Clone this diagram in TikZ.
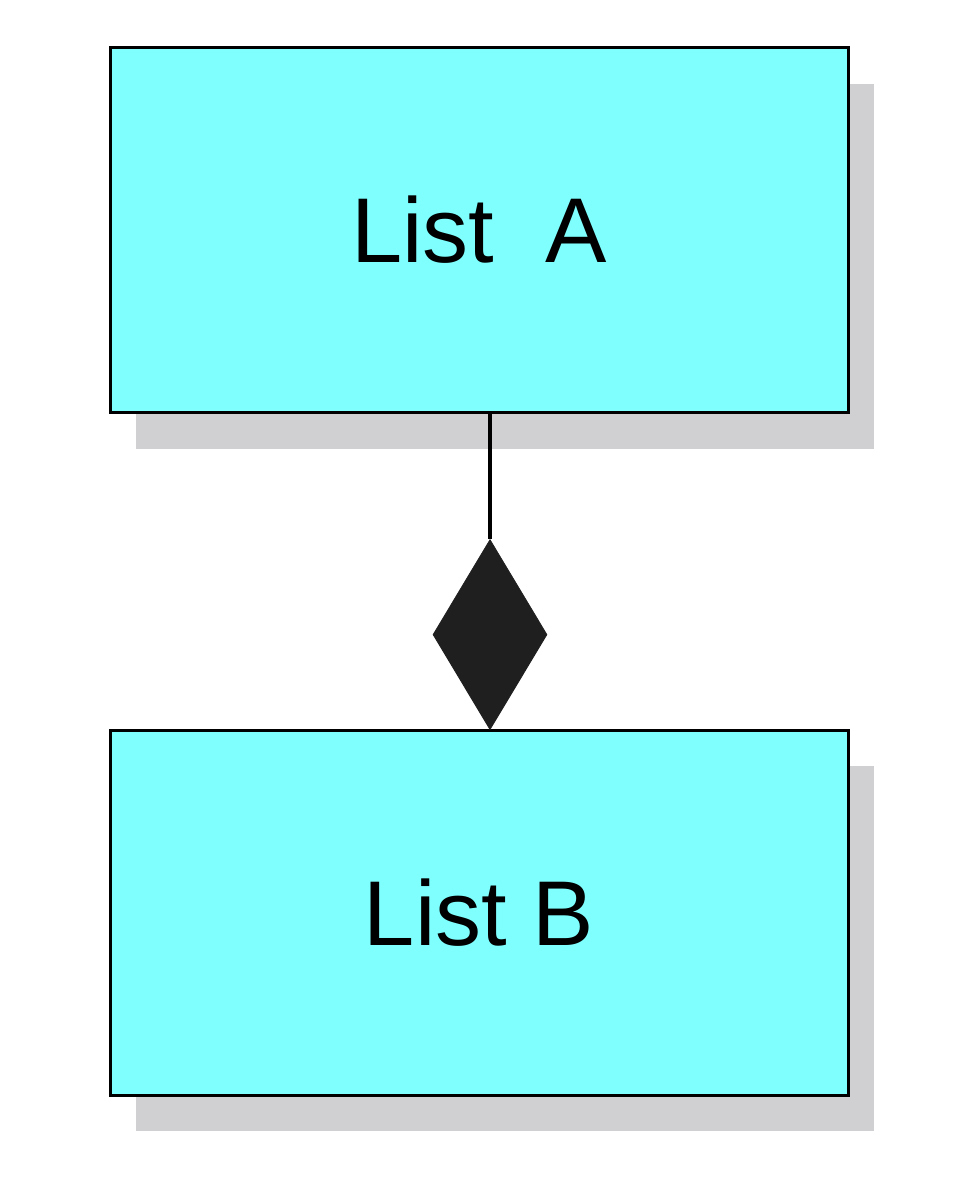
\documentclass[tikz,border=0pt]{standalone}
\usepackage{fontspec}
\setmainfont{Liberation Sans}
\usetikzlibrary{shapes.geometric}
\definecolor{boxcyan}{HTML}{80FFFF}
\definecolor{shadowgray}{HTML}{D0D0D2}
\begin{document}
\begin{tikzpicture}[x=0.5pt,y=-0.5pt,
  box/.style={draw=black,line width=1.5pt,fill=boxcyan,minimum width=369pt,minimum height=182.5pt,inner sep=0pt,font=\fontsize{46}{50}\selectfont},
  shadowbox/.style={fill=shadowgray,minimum width=369pt,minimum height=182.5pt,inner sep=0pt},
  dia/.style={diamond,fill=black!88,draw=black!88,inner sep=0pt,minimum width=57pt,minimum height=95pt}]
\useasboundingbox (0,0) rectangle (957,1200);
\node[shadowbox] (sa) at (505,266) {};
\node[shadowbox] (sb) at (505,948) {};
\node[box] (a) at (479,230) {List\ \ A};
\node[box] (b) at (479,913) {List B};
\node[dia,anchor=south] (d) at (490,730) {};
\draw[line width=2pt] (490,413) -- (d.north);
\end{tikzpicture}
\end{document}
